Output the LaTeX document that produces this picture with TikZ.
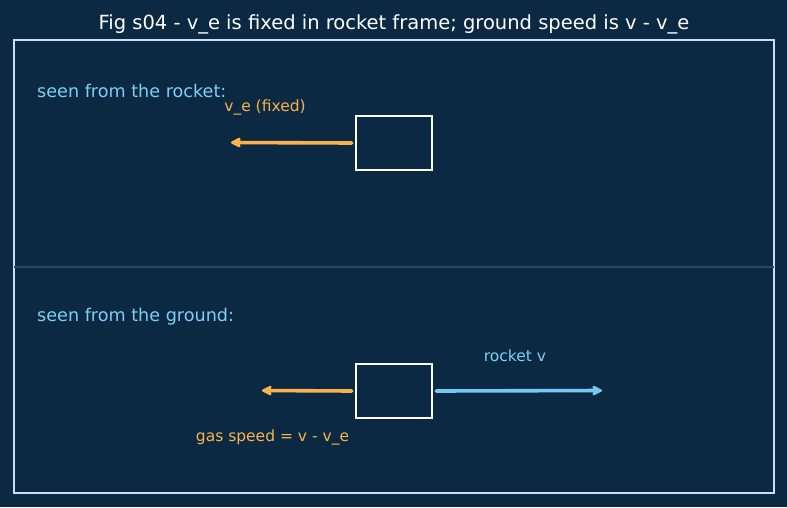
\documentclass[tikz,border=0pt]{standalone}
\usepackage{fontspec}
\setmainfont{DejaVu Sans}
\usetikzlibrary{arrows.meta}
\definecolor{bg}{HTML}{0B2942}
\definecolor{frame}{HTML}{C8E0F0}
\definecolor{divider}{HTML}{2E4A63}
\definecolor{orng}{HTML}{F9B24C}
\definecolor{lblue}{HTML}{74C8F2}
\definecolor{ltext}{HTML}{7ECFF2}
\tikzset{
  rocketbox/.style={draw=white, line width=2.4pt, minimum width=76pt, minimum height=54pt, inner sep=0pt},
  arr/.style={line width=3.6pt, line cap=round, -{Stealth[length=12pt,width=12pt,inset=2.5pt,round]}},
  lbl/.style={inner sep=0pt, font=\fontsize{17.6}{20}\selectfont, text=ltext},
  small/.style={inner sep=0pt, font=\fontsize{15.5}{18}\selectfont},
}
\begin{document}
\begin{tikzpicture}[x=1pt,y=-1pt]
\fill[bg] (0,0) rectangle (787,507);
\useasboundingbox (0,0) rectangle (787,507);
\node[inner sep=0pt, text=white, font=\fontsize{19.5}{22}\selectfont] (title) at (394,24) {Fig s04 - v\_e is fixed in rocket frame; ground speed is v - v\_e};
\draw[frame, line width=1.4pt] (14,40) rectangle (774,493);
\coordinate (dl) at (14,267);
\coordinate (dr) at (774,267);
\draw[divider, line width=1.5pt] (dl) -- (dr);
% top panel
\node[lbl, anchor=west] (t1) at (37,91) {seen from the rocket:};
\node[small, text=orng] (ve) at (265,107) {v\_e (fixed)};
\node[rocketbox] (r1) at (394,143) {};
\coordinate (g1) at (231,142.5);
\draw[arr, orng] ([xshift=-3pt]r1.west) -- (g1);
% bottom panel
\node[lbl, anchor=west] (t2) at (37,317) {seen from the ground:};
\node[rocketbox] (r2) at (394,391) {};
\coordinate (g2) at (262,390.5);
\coordinate (v2) at (602,390.5);
\draw[arr, orng] ([xshift=-3pt]r2.west) -- (g2);
\draw[arr, lblue] ([xshift=3pt]r2.east) -- (v2);
\node[small, text=ltext] (rv) at (515,356) {rocket v};
\node[small, text=orng] (gs) at (272.5,437) {gas speed = v - v\_e};
\end{tikzpicture}
\end{document}
